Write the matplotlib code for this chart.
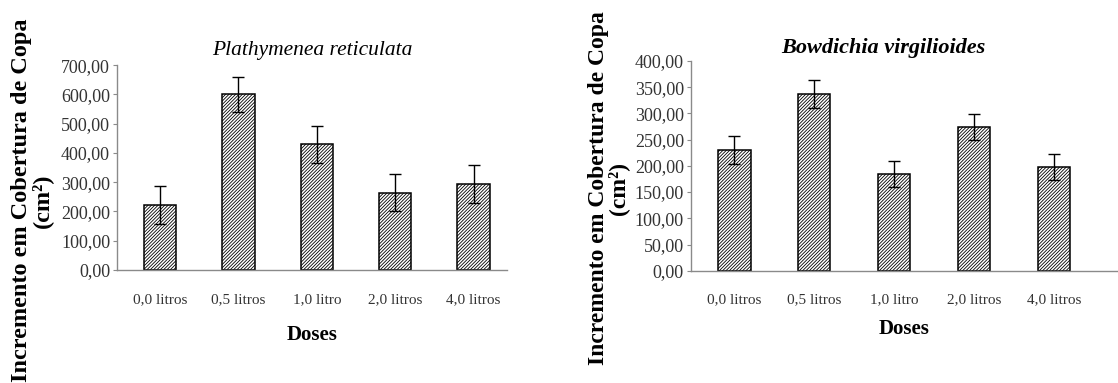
import matplotlib
matplotlib.use("Agg")
import matplotlib.pyplot as plt
from matplotlib.ticker import MultipleLocator, FuncFormatter

plt.rcParams['font.family'] = ['Liberation Serif', 'DejaVu Serif']
plt.rcParams['hatch.linewidth'] = 0.6

doses = ['0,0 litros', '0,5 litros', '1,0 litro', '2,0 litros', '4,0 litros']

# Plathymenea reticulata
plat_mean = [222, 600, 429, 264, 294]
plat_err = [66, 61, 62, 64, 66]

# Bowdichia virgilioides
bow_mean = [230, 337, 184, 274, 198]
bow_err = [26, 26, 25, 25, 25]

ylabel = 'Incremento em Cobertura de Copa\n(cm²)'


def comma_fmt(y, pos):
    return f"{y:.2f}".replace('.', ',')


def draw_panel(ax, means, errs, step, ymax, xlim, xpad, xlabelpad):
    x = list(range(len(doses)))
    ax.bar(x, means, width=0.41, color='white', edgecolor='black',
           linewidth=1.1, hatch='//////////', zorder=2)
    ax.errorbar(x, means, yerr=errs, fmt='none', ecolor='black',
                elinewidth=1.0, capsize=4, capthick=1.0, zorder=3)
    ax.set_xlim(*xlim)
    ax.set_ylim(0, ymax)
    ax.yaxis.set_major_locator(MultipleLocator(step))
    ax.yaxis.set_major_formatter(FuncFormatter(comma_fmt))
    ax.set_xticks(x)
    ax.set_xticklabels(doses)
    for s in ['top', 'right']:
        ax.spines[s].set_visible(False)
    for s in ['left', 'bottom']:
        ax.spines[s].set_color('#8a8a8a')
        ax.spines[s].set_linewidth(1.0)
    ax.tick_params(axis='y', length=3, color='#8a8a8a', labelsize=13,
                   labelcolor='#333333', pad=2)
    ax.tick_params(axis='x', length=0, labelsize=11, labelcolor='#333333', pad=xpad)
    ax.set_xlabel('Doses', fontsize=15, fontweight='bold', labelpad=xlabelpad)


fig = plt.figure(figsize=(11.18, 3.83), dpi=100)
fig.patch.set_facecolor('white')

ax1 = fig.add_axes([0.1047, 0.295, 0.349, 0.535])
draw_panel(ax1, plat_mean, plat_err, 100, 700, (-0.55, 4.43), 17, 13)
ax1.set_title('Plathymenea reticulata', fontsize=15.5, style='italic', pad=7)
ax1.set_ylabel(ylabel, fontsize=17.5, fontweight='bold', linespacing=0.9)
ax1.yaxis.set_label_coords(-0.165, 0.34)

ax2 = fig.add_axes([0.618, 0.293, 0.382, 0.548])
draw_panel(ax2, bow_mean, bow_err, 50, 400, (-0.54, 4.8), 16, 9)
ax2.set_title('Bowdichia virgilioides', fontsize=16, style='italic',
              fontweight='bold', x=0.45, pad=6)
ax2.set_ylabel(ylabel, fontsize=17, fontweight='bold', linespacing=0.9)
ax2.yaxis.set_label_coords(-0.145, 0.394)

fig.savefig('out.png', dpi=100, facecolor='white')
